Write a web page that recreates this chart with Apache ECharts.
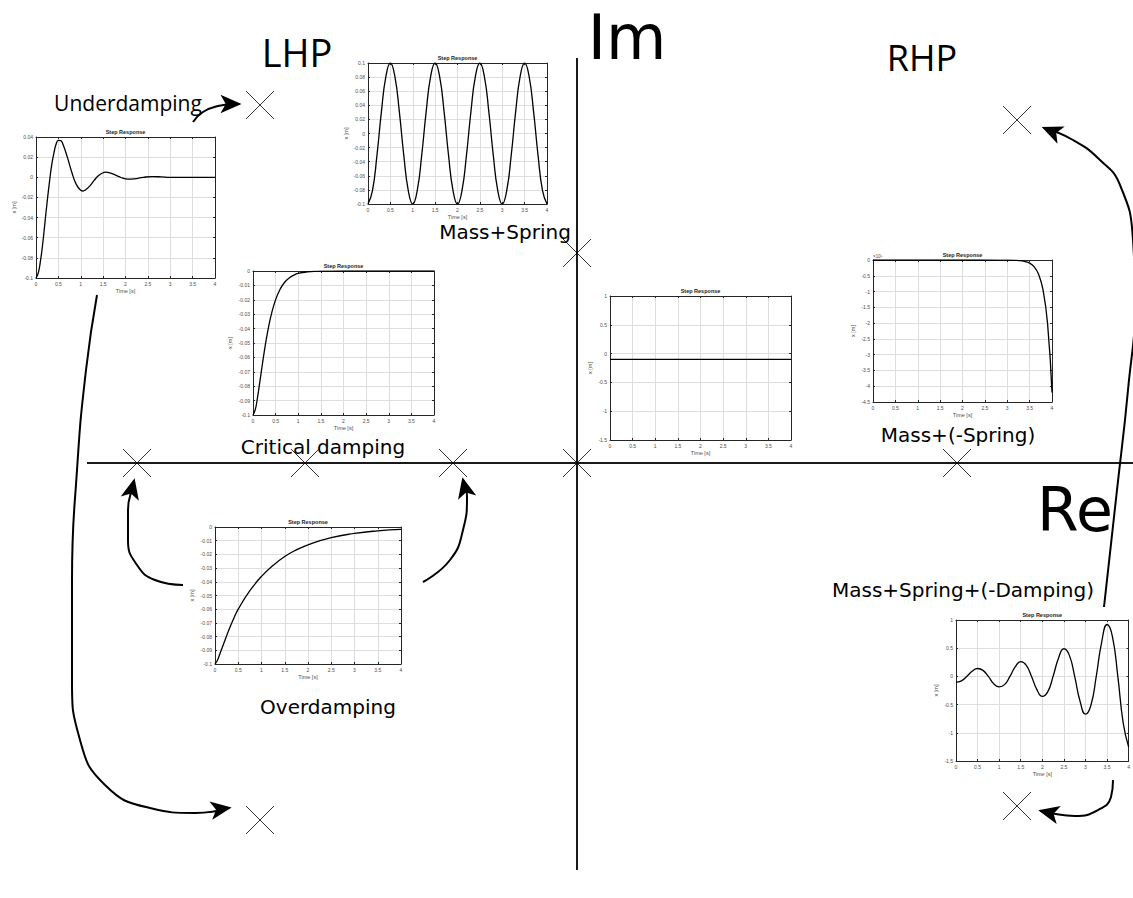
<!DOCTYPE html>
<html><head><meta charset="utf-8">
<script src="https://cdn.jsdelivr.net/npm/echarts@6/dist/echarts.min.js"></script>
<style>html,body{margin:0;padding:0;background:#fff}#c{width:1133px;height:898px}</style>
</head><body><div id="c"></div>
<script>
// ===== DATA =====
// Step responses (time in s, displacement in m)
const tUnder = [0,0.05,0.1,0.15,0.2,0.25,0.3,0.35,0.4,0.45,0.5,0.55,0.6,0.7,0.8,0.9,1.0,1.05,1.1,1.2,1.3,1.4,1.5,1.55,1.6,1.7,1.8,1.9,2.0,2.1,2.2,2.4,2.6,2.8,3.0,3.5,4.0];
const xUnder = [-0.1,-0.095,-0.083,-0.066,-0.045,-0.024,-0.005,0.012,0.024,0.033,0.0366,0.0365,0.033,0.020,0.005,-0.007,-0.0128,-0.0136,-0.0127,-0.0088,-0.0031,0.0017,0.0045,0.0051,0.0049,0.0037,0.0017,-0.0002,-0.0015,-0.0019,-0.0015,0,0.0007,0.0004,-0.0001,0,0];

const tMS = [0,0.1,0.2,0.3,0.4,0.5,0.6,0.7,0.8,0.9,1,1.1,1.2,1.3,1.4,1.5,1.6,1.7,1.8,1.9,2,2.1,2.2,2.3,2.4,2.5,2.6,2.7,2.8,2.9,3,3.1,3.2,3.3,3.4,3.5,3.6,3.7,3.8,3.9,4];
const xMS = [-0.1,-0.081,-0.031,0.031,0.081,0.1,0.081,0.031,-0.031,-0.081,
             -0.1,-0.081,-0.031,0.031,0.081,0.1,0.081,0.031,-0.031,-0.081,
             -0.1,-0.081,-0.031,0.031,0.081,0.1,0.081,0.031,-0.031,-0.081,
             -0.1,-0.081,-0.031,0.031,0.081,0.1,0.081,0.031,-0.031,-0.081,-0.1];

const tCrit = [0,0.05,0.1,0.15,0.2,0.25,0.3,0.35,0.4,0.5,0.6,0.7,0.8,0.9,1.0,1.2,1.4,1.6,2.0,3.0,4.0];
const xCrit = [-0.1,-0.0963,-0.0878,-0.0772,-0.0663,-0.0558,-0.0463,-0.038,-0.0308,-0.0199,-0.0126,-0.0078,-0.0048,-0.0029,-0.0017,-0.0006,-0.0002,-0.0001,0,0,0];

const tFree = [0,4];
const xFree = [-0.1,-0.1];

// values in units of 1e8 m
const tRHP = [0,1,2,2.8,3.0,3.2,3.3,3.4,3.5,3.6,3.7,3.8,3.9,4.0];
const xRHP = [0,0,0,-0.001,-0.003,-0.011,-0.023,-0.049,-0.10,-0.215,-0.45,-0.95,-2.0,-4.2];

const tOver = [0,0.05,0.1,0.2,0.3,0.4,0.5,0.75,1.0,1.25,1.5,1.75,2.0,2.5,3.0,3.5,4.0];
const xOver = [-0.1,-0.0975,-0.093,-0.084,-0.075,-0.067,-0.06,-0.0465,-0.036,-0.028,-0.0215,-0.0167,-0.013,-0.0078,-0.0047,-0.0028,-0.0017];

const tNeg = [0,0.125,0.25,0.375,0.5,0.625,0.75,0.875,1,1.125,1.25,1.375,1.5,1.625,1.75,1.875,2,2.125,2.25,2.375,2.5,2.625,2.75,2.875,3,3.125,3.25,3.375,3.5,3.625,3.75,3.875,4];
const xNeg = [-0.1,-0.078,0,0.091,0.14,0.107,0,-0.13,-0.185,-0.146,0,0.172,0.262,0.201,0,-0.235,-0.355,-0.275,0,0.322,0.49,0.377,0,-0.441,-0.67,-0.516,0,0.605,0.92,0.707,0,-0.828,-1.25];

// Complex plane (Re, Im) drawing units
const imAxisLine = [[0,405],[0,-407]];
const reAxisLine = [[-490,0],[556,0]];
const poles = [[-317,358],[440,343],[0,210],[-440,0],[-272,0],[-124,0],[0,0],[380,0],[-317,-357],[440,-343]];

const arrowUnder = [[-384,341],[-374,351],[-359,357],[-342,359],[-325,359]];
const arrowLong  = [[-480,168],[-491,93],[-500,-7],[-505,-117],[-505,-217],[-497,-277],[-472,-322],[-427,-345],[-382,-350],[-335,-343]];
const arrowOverL = [[-394,-122],[-422,-117],[-440,-102],[-449,-77],[-449,-47],[-444,-22],[-440,-5]];
const arrowOverR = [[-154,-119],[-127,-97],[-114,-67],[-110,-34],[-117,-4]];
const arrowRHP   = [[527,-144],[540,-27],[551,73],[558,163],[556,223],[543,278],[523,303],[496,323],[455,340]];
const arrowNeg   = [[536,-317],[534,-334],[521,-347],[498,-353],[473,-350],[451,-345]];

const labelTexts = ['LHP','Im','RHP','Re','Underdamping','Mass+Spring','Critical damping','Mass+(-Spring)','Overdamping','Mass+Spring+(-Damping)'];
const labelPos = [[-280,411],[50,426],[345,406],[498,-47],[-449,360],[-72,231],[-254,16],[381,28],[-249,-244],[386,-127]];

const timeTicks = [0,0.5,1,1.5,2,2.5,3,3.5,4];

// ===== LAYOUT / STYLE =====
const labelStyle = [
  {size:38, font:'Open Sans'},{size:62, font:'DejaVu Sans'},{size:36, font:'Open Sans'},{size:60, font:'DejaVu Sans'},
  {size:21, font:'Open Sans'},{size:20, font:'DejaVu Sans'},{size:20, font:'DejaVu Sans'},{size:20, font:'DejaVu Sans'},
  {size:20, font:'DejaVu Sans'},{size:20, font:'DejaVu Sans'}
];
const plots = [
  {t:tUnder, x:xUnder, left:36,  top:137, width:179, height:141, min:-0.1, max:0.04, step:0.02, gap:19},
  {t:tMS,    x:xMS,    left:368, top:63,  width:179, height:141, min:-0.1, max:0.1,  step:0.02, gap:19},
  {t:tCrit,  x:xCrit,  left:253, top:271, width:181, height:144, min:-0.1, max:0,    step:0.01, gap:20},
  {t:tFree,  x:xFree,  left:610, top:296, width:181, height:144, min:-1.5, max:1,    step:0.5,  gap:17},
  {t:tRHP,   x:xRHP,   left:873, top:260, width:179, height:142, min:-4.5, max:0,    step:0.5,  gap:17, exp:'×10⁸'},
  {t:tOver,  x:xOver,  left:215, top:527, width:186, height:137, min:-0.1, max:0,    step:0.01, gap:20},
  {t:tNeg,   x:xNeg,   left:956, top:620, width:178, height:141, min:-1.5, max:1,    step:0.5,  gap:17}
];

const grids = [{left:0, top:0, width:1133, height:898}];
const xAxes = [{gridIndex:0, type:'value', min:-577, max:556, show:false}];
const yAxes = [{gridIndex:0, type:'value', min:-435, max:463, show:false}];
const series = [];

const BOX = '#262626', GRIDC = '#dedede', LBL = '#4d4d4d';
const fmt = v => String(+(+v).toFixed(3));

plots.forEach((p, i) => {
  const gi = i + 1;
  grids.push({left:p.left, top:p.top, width:p.width, height:p.height});
  const xb = xAxes.length;
  xAxes.push({gridIndex:gi, type:'value', position:'bottom', min:timeTicks[0], max:timeTicks[timeTicks.length-1], interval:timeTicks[1]-timeTicks[0],
    axisLine:{show:true, onZero:false, lineStyle:{color:BOX, width:1}},
    axisTick:{show:true, inside:true, length:2, lineStyle:{color:BOX}},
    axisLabel:{fontSize:5, margin:3, color:LBL, formatter:fmt, fontFamily:'Liberation Sans'},
    splitLine:{show:true, lineStyle:{color:GRIDC, width:1}},
    name:'Time [s]', nameLocation:'middle', nameGap:10, nameTextStyle:{fontSize:5.5, color:LBL, fontFamily:'Liberation Sans'}});
  xAxes.push({gridIndex:gi, type:'value', position:'top', min:timeTicks[0], max:timeTicks[timeTicks.length-1], interval:timeTicks[1]-timeTicks[0],
    axisLine:{show:true, onZero:false, lineStyle:{color:BOX, width:1}},
    axisTick:{show:true, inside:true, length:2, lineStyle:{color:BOX}},
    axisLabel:{show:false}, splitLine:{show:false},
    name:'Step Response', nameLocation:'middle', nameGap:2,
    nameTextStyle:{fontSize:5.5, fontWeight:'bold', color:'#1a1a1a', fontFamily:'Liberation Sans', verticalAlign:'bottom'}});
  const yl = yAxes.length;
  yAxes.push({gridIndex:gi, type:'value', position:'left', min:p.min, max:p.max, interval:p.step,
    axisLine:{show:true, onZero:false, lineStyle:{color:BOX, width:1}},
    axisTick:{show:true, inside:true, length:2, lineStyle:{color:BOX}},
    axisLabel:{fontSize:5, margin:3, color:LBL, formatter:fmt, fontFamily:'Liberation Sans'},
    splitLine:{show:true, lineStyle:{color:GRIDC, width:1}},
    name:'x [m]', nameLocation:'middle', nameRotate:90, nameGap:p.gap, nameTextStyle:{fontSize:5.5, color:LBL, fontFamily:'Liberation Sans'}});
  yAxes.push({gridIndex:gi, type:'value', position:'right', min:p.min, max:p.max, interval:p.step,
    axisLine:{show:true, onZero:false, lineStyle:{color:BOX, width:1}},
    axisTick:{show:true, inside:true, length:2, lineStyle:{color:BOX}},
    axisLabel:{show:false}, splitLine:{show:false}});
  if (p.exp) {
    yAxes.push({gridIndex:gi, type:'value', position:'left', min:p.min, max:p.max,
      axisLine:{show:false}, axisTick:{show:false}, axisLabel:{show:false}, splitLine:{show:false},
      name:p.exp, nameLocation:'end', nameGap:1,
      nameTextStyle:{fontSize:4.5, color:LBL, fontFamily:'Liberation Sans', align:'left', verticalAlign:'bottom'}});
  }
  series.push({type:'line', xAxisIndex:xb, yAxisIndex:yl, data:p.t.map((t,k)=>[t,p.x[k]]),
    symbol:'none', smooth:0.5, lineStyle:{color:'#000', width:1.3}, z:5, silent:true});
});

// plane axes
[imAxisLine, reAxisLine].forEach(d => series.push({type:'line', xAxisIndex:0, yAxisIndex:0, data:d, symbol:'none',
  lineStyle:{color:'#1a1a1a', width:2}, z:3, silent:true}));

// poles
series.push({type:'scatter', xAxisIndex:0, yAxisIndex:0, data:poles, symbol:'path://M0,0L10,10M10,0L0,10', symbolSize:28,
  itemStyle:{color:'rgba(0,0,0,0)', borderColor:'#000', borderWidth:1}, z:6, silent:true});

// arrows
const HEAD = [14, 21];
const heads = [];
[arrowUnder, arrowLong, arrowOverL, arrowOverR, arrowRHP, arrowNeg].forEach(path => {
  const n = path.length, a = path[n-2], b = path[n-1];
  const dx = b[0]-a[0], dy = b[1]-a[1], L = Math.hypot(dx, dy);
  const ux = dx/L, uy = dy/L;
  const ang = Math.atan2(dy, dx) * 180 / Math.PI - 90;
  const body = path.slice(0, n-1).concat([[b[0]-ux*HEAD[1]*0.6, b[1]-uy*HEAD[1]*0.6]]);
  series.push({type:'line', xAxisIndex:0, yAxisIndex:0, data:body, symbol:'none', smooth:0.5,
    lineStyle:{color:'#000', width:2}, z:6, silent:true});
  heads.push({value:[b[0]-ux*HEAD[1]/2, b[1]-uy*HEAD[1]/2], symbolRotate:ang});
});
series.push({type:'scatter', xAxisIndex:0, yAxisIndex:0, data:heads, symbol:'arrow', symbolSize:HEAD,
  itemStyle:{color:'#000', opacity:1}, z:7, silent:true});

const chart = echarts.init(document.getElementById('c'), null, {renderer:'svg', width:1133, height:898});
chart.setOption({animation:false, backgroundColor:'#fff', grid:grids, xAxis:xAxes, yAxis:yAxes, series:series});

// text labels placed through the plane's own scales
const texts = labelTexts.map((s, k) => {
  const px = chart.convertToPixel({gridIndex:0}, labelPos[k]);
  return {type:'text', x:px[0], y:px[1], z:10, silent:true,
    style:{text:s, fill:'#000000', fontSize:labelStyle[k].size, fontFamily:labelStyle[k].font,
      align:'center', verticalAlign:'middle'}};
});
chart.setOption({graphic:texts});
</script></body></html>
